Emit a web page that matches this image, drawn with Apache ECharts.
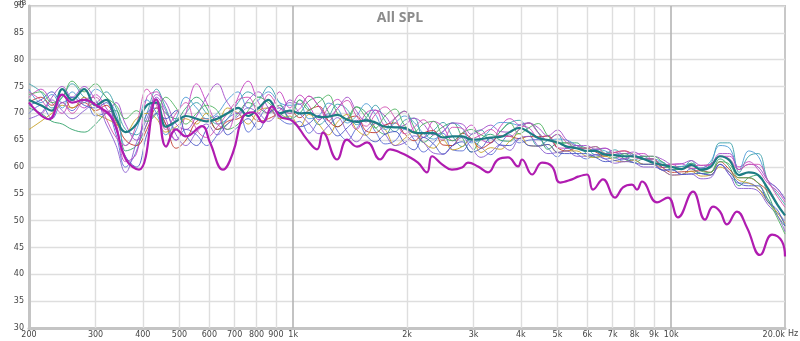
<!DOCTYPE html>
<html><head><meta charset="utf-8">
<script src="https://cdn.jsdelivr.net/npm/echarts@6/dist/echarts.min.js"></script>
<style>html,body{margin:0;padding:0;background:#fff}#c{width:800px;height:341px}</style>
</head><body><div id="c"></div>
<script>
// Shared frequency grid (Hz) for the measurement bundle
const freqs = [200,215,230,245,260,280,300,320,340,360,385,410,435,460,490,520,555,590,630,670,715,760,810,860,920,980,
  1040,1100,1170,1240,1310,1390,1470,1560,1650,1750,1860,1970,2090,2210,2350,2490,2640,2800,2960,3140,3330,3530,3740,3960,4200,4450,4720,5000,5300,5620,5960,6310,6690,7090,7520,7970,8450,8950,9490,10060,10660,11300,11980,12700,13460,14270,15120,16030,16990,18010,19090,20000];

const curveA = [75.5,74,71,73,75.5,73,72,74,71,67,66,70,74.5,71,67,70,72,70,68,69,72,74,73,75,72,70,
  72.5,70.8,67.9,69.4,71.7,70.7,67.9,69.2,71.5,68.6,66.6,68.7,69.1,65.5,66.8,68.3,65.7,63.8,66.1,66.9,64.5,66.6,68.2,68.7,66.5,63.9,65,66.1,
  63.5,64,63.5,62.3,62.5,63.2,62,61.3,62,61,60.9,59.5,59.6,61.2,59.3,60.5,64.5,64.5,59,62,62.5,57.5,55,53];
const curveB = [70,71.5,69,72,70.5,73,69.5,70,66,60,63,70,71,68,65,67,66,64,66,69,70,66.5,69,71,69,68,
  68.5,66.3,68.6,69.9,66.7,65,67.2,68.9,66.6,64.3,64.9,67,65.1,62.8,64.5,66.3,63.2,63,64.8,63.7,62.3,64.3,66,64.5,65,65.1,63.5,61.9,
  63.5,62.5,61.5,62.3,61.5,61.7,61,61.3,60.5,60.5,59.4,59.5,58.6,59.7,58.8,58.5,60.5,58.5,57,57,56,54,51.5,50];
const curveC = [71,70,68.5,68,67,66.5,68,70,70.5,63,64,68,72.5,70,69,71,73,71,67,68,70,72,71,70,71.5,69,
  70,72.3,73,70.2,67.5,69,71.2,70.1,67.3,66.1,69.1,70.4,67.4,64.6,66,67.5,68.2,65.5,62.8,65.2,66.1,65,64.8,67,68.2,66.4,63.3,64.4,
  64.5,64.5,62.5,61.8,62.5,62.7,61.5,60.8,61.5,61.5,59.9,60,60.1,59.7,58.8,59,61.5,60,56.5,58,58.5,55,51,49];
const curveD = [73,74.5,72,70,72.5,71,73.5,71,68,61,62.5,73,74,69,65,70,75.5,72,68,67,73,76,72,70,74,71,
  73.4,71.5,68.8,71.1,72.6,69.8,67,70.1,70.6,67.8,69.1,70.4,66.6,65.5,68.5,67.5,64.9,66.3,67.8,65.2,64.5,67.5,69,67.8,67.3,65.6,65.8,63.6,
  63.5,64,63,63.3,63.5,62.2,61.5,62.3,62.5,61,59.9,60.5,60.6,59.7,59.8,60.5,62,62,60,61,59.5,57,55.5,53.5];
const curveE = [72,73,71.5,73.5,71,72,70.5,71.5,68.5,65,64,67,71,68,63.5,65,68.5,69,67,68.5,69,70,68.5,69,70,70.5,
  69.2,70.6,71.3,68.6,67.5,69,69.5,66.7,66.4,67.8,68.2,66.2,64.9,66.3,66.8,64.1,64,66.3,65.3,63.5,64.5,65.8,65.7,65.3,65.7,65.6,65.8,63.6,
  63,63.5,63.5,62.8,62,62.7,63,62.3,61.5,61.5,59.9,59,59.1,59.2,59.3,59,61,59.5,58,58,57,55.5,53,51];
const curveF = [67,68.5,70,71.5,71,73,70,69,68,66.5,69,70,69,66.5,67.5,69,68,70,68.5,71,70,68,70.5,71,69,69.5,
  67.5,69.8,67.9,66,68.4,69.8,67,65.9,68.1,67,64,65.3,66.6,64.6,63.5,65,63.2,63.8,65.3,62.7,63.6,63.3,64.8,66.2,64,63.9,64.2,62.7,
  63,63,62,61.8,62,61.2,61,61.3,60.5,60.5,59.4,58.5,58.6,59.2,58.3,58.5,60,59,57.5,57,56,53.5,51.5,49.5];
const curveG = [74.5,72,73.5,71,74,72,74.5,73,70,64,67,72.5,70,66,69,73,71,69,70,72.5,74,71,72.5,74,72,71.5,
  71.7,69,69.6,71.9,70.9,68.2,69.5,71.8,69.8,67,68.2,69.5,68.3,66.3,65.2,66.6,68.2,67.2,64.5,65.2,67,68.3,68.2,67.8,68.2,66.4,65,65.2,
  65,64,63,63.3,63,62.2,62.5,62.3,61.5,61.5,60.9,60,60.1,60.7,59.8,61,64,63.5,59.5,63,62,57.5,56,54];
const curveH = [69,70,72.5,70.5,69,70.5,72,68,64,59,64.5,69,73,70.5,66,64,66.5,68,66,68,69.5,71,70,68.5,70.5,72,
  70,68.1,66.2,67.7,69.2,66.5,64.7,66.7,68.1,66.1,64,64.5,65.8,64.6,62.6,62.4,64,65.5,63.6,61.8,62.8,64.1,63.1,65.3,65.7,63.9,62.5,62.7,
  63,62,62,62.3,61.5,60.7,61,60.8,60,60,59.4,58.5,58.6,58.7,57.8,58,60.5,58.5,56,56,55.5,53,51,48];
const curveI = [72,70,73,75,73,75,72.5,70,72,68,65,68,73.5,72,68,67,69.5,73,75.5,72,70,72.5,74,71,69.5,72.5,
  71.7,73.2,71.3,69.4,70.9,73,70.4,68.4,70.6,69.5,67.4,67.8,69.1,68,66,66.6,68.2,68,66.1,66.9,67.8,66.6,66.5,67.8,68.2,67.3,65.8,66.9,
  65,64,64,63.3,63.5,62.7,62.5,62.8,62,62,61.4,60.5,60.6,61.2,60.3,60.5,62.5,62.5,59.5,60.5,60,57.5,56,54];
const curveJ = [73.5,74,72,73,76,74,75.5,73,71.5,69,70.5,68.5,70,73,71,68,70,71.5,70.5,67,68,70.5,73,72,70,69,
  72.5,70.6,72.1,73.4,70,69,71.2,69.2,67.3,69.5,70.8,67.8,66.6,68,68.5,65.8,64.9,66.3,67,66,65.3,66.6,68.2,66.2,67.3,68.1,65.8,64.4,
  64.5,63.5,63.5,63.8,62.5,61.7,62.5,61.8,62,62,60.9,59.5,59.6,60.7,59.3,59,61,60.5,58,58,57,54,50.5,47.5];
const curveK = [71.5,72.5,74,72,73,71.5,71,72,67,62,60,66,70,69,70.5,66,64,67,69.5,66,67.5,69,67,70,71,69,
  67.5,68.1,69.6,67.7,65.8,67.3,68.7,65.9,64.7,66.1,66.6,64.5,63.2,65.5,64.3,62.4,64,64.7,62.8,63.5,65.3,64.1,64,65.3,64,63.9,64.2,62.7,
  62.5,62.5,62.5,61.8,61,61.2,61.5,60.8,60.5,60.5,59.4,59.5,58.6,58.7,58.8,58.5,60.5,59,57,56.5,56.5,53.5,52,49];
const curveL = [74,72.5,70.5,72,70,72.5,73,69,65.5,64,68,74.5,71.5,67,70,72,67,65.5,67.5,70,72.5,73,70,73.5,71,70,
  70.8,73.2,71.3,68.6,70.9,72.4,69.5,67.6,69.8,71.2,69.1,66.2,67.4,68.8,66.8,65,67.4,67.2,65.3,66,67,65.8,65.7,67,68.2,66.4,65,66.1,
  64.5,63.5,63.5,63.8,62.5,62.7,63,61.8,61.5,61.5,60.4,60.5,59.6,60.2,60.3,60.5,62,61.5,59.5,60.5,60.5,57.5,54.5,52.5];
const curveMean = [72.5,71.5,70.5,74.5,72.5,74.5,71.5,72.5,69,66.5,68,71.5,72,67.5,68.5,69.5,69,68.5,69,70,71,69.5,71,72.5,70,70.5,
  70,70.1,69.3,69.4,69.7,68.8,68.4,68.7,68.3,67.5,67.4,67.3,66.4,66.3,66.3,65.5,65.7,65.7,65.1,65.2,65.5,65.6,66.5,67.3,66.5,65.4,65,64.6,
  63.8,63.5,63,63,62.3,62.2,62,62,61.5,60.8,60.4,60,59.6,60.4,59.5,60,62,61.2,58.5,59,58.5,56,53,51];

// Outlier measurement (thick magenta), own frequency points
const outlierFreq = [200,226,245,260,280,301,332,361,391,434,461,490,520,574,602,652,693,737,783,832,879,923,999,1088,1156,1199,1306,1388,1475,1568,1697,1804,1917,2012,2138,2258,2330,2476,2630,2796,2900,3082,3276,3482,3700,3934,4030,4284,4552,4838,5080,5466,5670,5988,6210,6600,7100,7454,7874,8120,8370,9172,9806,10426,11420,12286,12898,13460,14048,14920,15870,17180,18480,19640,20000];
const outlierDb = [72,68.9,73.5,72,72.5,71.5,69,61.4,59.5,72.6,63.8,67,65.7,67.6,64.6,59.5,62.7,69.4,70.2,68.3,71.3,69.4,68.5,65.1,63.3,66.4,61.4,65.1,63.8,64.6,61.4,63.3,62.7,62,60.8,59,62,60.5,59.5,59.9,60.8,60.1,59,61.4,61.8,60.1,61.4,58.6,60.8,60.1,57.1,57.7,58.2,58.6,55.8,57.7,54.3,56.2,56.7,55.8,57.3,53.4,54.3,50.6,55.4,50.2,52.6,51.7,49.3,51.7,48.7,43.6,47.4,46.1,43.3];

const thinCurves = [curveA,curveB,curveC,curveD,curveE,curveF,curveG,curveH,curveI,curveJ,curveK,curveL];
const thinColors = ['#3aa0a8','#5b6fd6','#33a36b','#c53fc0','#c0392b','#c9a227','#4c9bd6','#8a5cd0','#a24bc9','#4cb35e','#4856c4','#d04fb0'];

const xTickValues = [200,300,400,500,600,700,800,900,1000,2000,3000,4000,5000,6000,7000,8000,9000,10000,20000];
const xTickLabels = ['200','300','400','500','600','700','800','900','1k','2k','3k','4k','5k','6k','7k','8k','9k','10k','20.0k'];
const yMin = 30, yMax = 90, yStep = 5;

const pairs = (xs, ys) => xs.map((x, i) => [x, ys[i]]);

const series = [];
series.push({
  type: 'line', xAxisIndex: 0, data: [], silent: true, z: 1,
  markLine: {
    silent: true, symbol: 'none', animation: false, label: {show: false},
    data: xTickValues.slice(1, -1).map(f => ({
      xAxis: f,
      lineStyle: {type: 'solid', color: (f === 1000 || f === 10000) ? '#b4b4b4' : '#dedede', width: (f === 1000 || f === 10000) ? 1.6 : 1.4}
    }))
  }
});
thinCurves.forEach((c, i) => series.push({
  type: 'line', xAxisIndex: 0, data: pairs(freqs, c), smooth: 0.4, showSymbol: false, z: 3,
  lineStyle: {width: 1, color: thinColors[i], opacity: 0.9}, animation: false
}));
series.push({type: 'line', xAxisIndex: 0, data: pairs(freqs, curveMean), smooth: 0.4, showSymbol: false, z: 4,
  lineStyle: {width: 2.2, color: '#1d7c84'}, animation: false});
series.push({type: 'line', xAxisIndex: 0, data: pairs(outlierFreq, outlierDb), smooth: 0.45, showSymbol: false, z: 5,
  lineStyle: {width: 2.2, color: '#b01cb0'}, animation: false});

const chart = echarts.init(document.getElementById('c'), null, {renderer: 'canvas'});
chart.setOption({
  backgroundColor: '#ffffff',
  animation: false,
  title: {text: 'All SPL', left: 'center', top: 6, textStyle: {fontFamily: 'Open Sans', fontWeight: 'bold', fontSize: 14, color: '#8c8c8c'}},
  grid: {left: 29, right: 15, top: 6, bottom: 13, show: true, borderColor: '#c8c8c8', borderWidth: 2, backgroundColor: '#fff'},
  xAxis: [{
    type: 'log', logBase: 10, min: 200, max: 20000,
    axisLine: {show: false}, axisTick: {show: false}, axisLabel: {show: false}, splitLine: {show: false}
  }, {
    type: 'value', min: Math.log10(200), max: Math.log10(20000), position: 'bottom',
    axisLine: {show: true, onZero: false, lineStyle: {color: '#c4c4c4', width: 3}},
    axisTick: {show: false}, splitLine: {show: false},
    axisLabel: {
      customValues: xTickValues.map(f => Math.log10(f)),
      formatter: v => { const i = xTickValues.findIndex(f => Math.abs(Math.log10(f) - v) < 1e-6); return i >= 0 ? xTickLabels[i] : ''; },
      fontSize: 8, color: '#444', margin: 3, fontFamily: 'DejaVu Sans', alignMaxLabel: 'right'
    }
  }],
  yAxis: {
    type: 'value', min: yMin, max: yMax, interval: yStep,
    axisLine: {show: true, lineStyle: {color: '#c4c4c4', width: 3}},
    axisTick: {show: false},
    axisLabel: {fontSize: 8, color: '#444', margin: 5, fontFamily: 'DejaVu Sans'},
    splitLine: {lineStyle: {color: '#dedede', width: 1.4}}
  },
  graphic: [
    {type: 'text', left: 17, top: 0, style: {text: 'dB', fontSize: 7, fill: '#444', fontFamily: 'DejaVu Sans'}},
    {type: 'text', left: 788, top: 330, style: {text: 'Hz', fontSize: 8, fill: '#444', fontFamily: 'DejaVu Sans'}}
  ],
  series: series
});
</script>
</body></html>
